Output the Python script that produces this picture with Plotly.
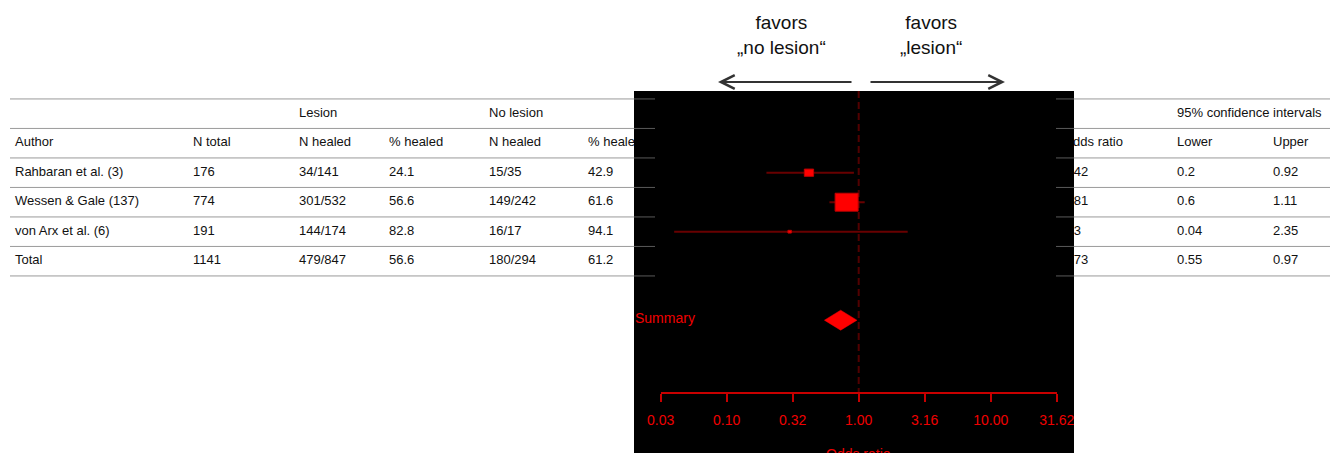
import math
import plotly.graph_objects as go

# ---- study data -----------------------------------------------------------
authors = ["Rahbaran et al. (3)", "Wessen & Gale (137)", "von Arx et al. (6)"]
total_label = "Total"
n_total = [176, 774, 191]
n_total_sum = 1141
lesion_healed = ["34/141", "301/532", "144/174"]
lesion_healed_sum = "479/847"
lesion_pct = [24.1, 56.6, 82.8]
lesion_pct_sum = 56.6
nolesion_healed = ["15/35", "149/242", "16/17"]
nolesion_healed_sum = "180/294"
nolesion_pct = [42.9, 61.6, 94.1]
nolesion_pct_sum = 61.2
odds_ratio = [0.42, 0.81, 0.3]
odds_ratio_sum = 0.73
ci_lower = [0.2, 0.6, 0.04]
ci_lower_sum = 0.55
ci_upper = [0.92, 1.11, 2.35]
ci_upper_sum = 0.97

group_headers = ["", "", "Lesion", "", "No lesion", "", "", "95% confidence intervals", ""]
col_headers = ["Author", "N total", "N healed", "% healed", "N healed", "% healed",
               "Odds ratio", "Lower", "Upper"]
tick_exponents = [-1.5, -1.0, -0.5, 0.0, 0.5, 1.0, 1.5]
tick_labels = ["0.03", "0.10", "0.32", "1.00", "3.16", "10.00", "31.62"]

# ---- page geometry (pixels) ----------------------------------------------
W, H = 1330, 453
ROW0, ROW_H = 113.7, 29.5          # centre of first table row, row pitch
PANEL_L, PANEL_R, PANEL_T = 634, 1074, 91
AX_L, AX_R, AX_Y = 660.7, 1056.7, 393
col_x = [15, 193, 299, 389, 489, 588, 1063, 1177, 1273]
FONT = "Liberation Sans, Arial, Helvetica, sans-serif"
RED = "#f00000"
BOX_MAX_W, BOX_ASPECT = 23, 1.28   # largest box width (px), width/height


def fx(p):
    return p / W


def fy(p):
    return 1 - p / H


def row_of(p):
    return (p - ROW0) / ROW_H


def fmt(v):
    return f"{v:g}"


# pixels per decade on the odds-ratio axis
PX_PER_DEC = (AX_R - AX_L) / (tick_exponents[-1] - tick_exponents[0])

# table body, one list per column
columns = [
    authors + [total_label],
    [str(v) for v in n_total] + [str(n_total_sum)],
    lesion_healed + [lesion_healed_sum],
    [fmt(v) for v in lesion_pct] + [fmt(lesion_pct_sum)],
    nolesion_healed + [nolesion_healed_sum],
    [fmt(v) for v in nolesion_pct] + [fmt(nolesion_pct_sum)],
    [fmt(v) for v in odds_ratio] + [fmt(odds_ratio_sum)],
    [fmt(v) for v in ci_lower] + [fmt(ci_lower_sum)],
    [fmt(v) for v in ci_upper] + [fmt(ci_upper_sum)],
]

fig = go.Figure()

# text columns: left block in x/y, right block in x3/y (both clip at the panel)
for ci, x in enumerate(col_x):
    texts = [group_headers[ci], col_headers[ci]] + columns[ci]
    keep = [(r, t) for r, t in enumerate(texts) if t]
    fig.add_trace(go.Scatter(
        x=[x] * len(keep), y=[r for r, _ in keep], text=[t for _, t in keep],
        mode="text", textposition="middle right",
        textfont=dict(family=FONT, size=13, color="#111111"),
        xaxis="x" if x < PANEL_L else "x3", yaxis="y",
        cliponaxis=True, hoverinfo="skip", showlegend=False,
    ))

# ---- forest plot ---------------------------------------------------------
study_rows = [2 + i for i in range(len(authors))]
summary_row = 2 + len(authors) + 2

ci_x, ci_y = [], []
for lo, hi, r in zip(ci_lower, ci_upper, study_rows):
    ci_x += [lo, hi, None]
    ci_y += [r, r, None]
fig.add_trace(go.Scatter(
    x=ci_x, y=ci_y, mode="lines", line=dict(color="#680000", width=2),
    xaxis="x2", yaxis="y", hoverinfo="skip", showlegend=False,
))

# study boxes, side proportional to precision (1/SE)
inv_se = [2 * 1.96 / (math.log(hi) - math.log(lo))
          for lo, hi in zip(ci_lower, ci_upper)]
max_inv = max(inv_se)
for est, r, p in zip(odds_ratio, study_rows, inv_se):
    w = BOX_MAX_W * p / max_inv
    hx = 10 ** (w / 2 / PX_PER_DEC)          # half-width as a factor on the log axis
    hy = w / BOX_ASPECT / 2 / ROW_H          # half-height in row units
    fig.add_trace(go.Scatter(
        x=[est / hx, est * hx, est * hx, est / hx, est / hx],
        y=[r - hy, r - hy, r + hy, r + hy, r - hy],
        mode="lines", fill="toself", fillcolor="#ff0000",
        line=dict(color="#c00000", width=1),
        xaxis="x2", yaxis="y", hoverinfo="skip", showlegend=False,
    ))

half_h = 10 / ROW_H
fig.add_trace(go.Scatter(
    x=[ci_lower_sum, odds_ratio_sum, ci_upper_sum, odds_ratio_sum, ci_lower_sum],
    y=[summary_row, summary_row - half_h, summary_row, summary_row + half_h, summary_row],
    mode="lines", fill="toself", fillcolor="#ff0000",
    line=dict(color="#ff0000", width=0.5),
    xaxis="x2", yaxis="y", hoverinfo="skip", showlegend=False,
))

shapes = []
# black panel behind the forest plot
shapes.append(dict(type="rect", xref="paper", yref="paper", layer="below",
                   x0=fx(PANEL_L), x1=fx(PANEL_R), y0=0, y1=fy(PANEL_T),
                   fillcolor="#000000", line=dict(width=0)))
# reference line at OR = 1
shapes.append(dict(type="line", xref="x2", yref="y", layer="below",
                   x0=1, x1=1, y0=row_of(PANEL_T), y1=row_of(AX_Y),
                   line=dict(color="#520000", width=2, dash="7px,4px")))

# table rules
for k in range(len(columns[0]) + 3):
    for a, b in ((10, 655), (1056, W)):
        shapes.append(dict(type="line", xref="paper", yref="y", layer="above",
                           x0=fx(a), x1=fx(b), y0=k - 0.5, y1=k - 0.5,
                           line=dict(color="rgba(120,120,120,0.75)", width=1)))

annotations = [
    dict(text="Summary", xref="paper", yref="y", x=fx(633), y=summary_row,
         xanchor="left", yanchor="middle", yshift=2, showarrow=False,
         font=dict(family=FONT, size=14, color=RED)),
    dict(text="Odds ratio", xref="x2 domain", yref="paper", x=0.5, y=fy(444),
         xanchor="center", yanchor="top", showarrow=False,
         font=dict(family=FONT, size=14, color=RED)),
    dict(text="favors<br>„no lesion“", xref="paper", yref="paper",
         x=fx(781), y=fy(35.5), xanchor="center", yanchor="middle",
         showarrow=False, font=dict(family=FONT, size=19, color="#111111")),
    dict(text="favors<br>„lesion“", xref="paper", yref="paper",
         x=fx(931), y=fy(35.5), xanchor="center", yanchor="middle",
         showarrow=False, font=dict(family=FONT, size=19, color="#111111")),
    dict(text="", xref="paper", yref="paper", x=fx(718), y=fy(82),
         ax=853 - 718, ay=0, showarrow=True, arrowhead=5, arrowsize=1.5,
         arrowwidth=1.8, arrowcolor="#333333", standoff=0),
    dict(text="", xref="paper", yref="paper", x=fx(1005), y=fy(82),
         ax=869 - 1005, ay=0, showarrow=True, arrowhead=5, arrowsize=1.5,
         arrowwidth=1.8, arrowcolor="#333333", standoff=0),
]

hidden = dict(visible=False, showgrid=False, zeroline=False, fixedrange=True)
fig.update_layout(
    width=W, height=H, autosize=False,
    margin=dict(l=0, r=0, t=0, b=0, pad=0, autoexpand=False),
    paper_bgcolor="#ffffff", plot_bgcolor="rgba(0,0,0,0)",
    showlegend=False, shapes=shapes, annotations=annotations,
    xaxis=dict(domain=[0, fx(PANEL_L)], range=[0, PANEL_L], anchor="y", **hidden),
    xaxis3=dict(domain=[fx(PANEL_R), 1], range=[PANEL_R, W], anchor="y", **hidden),
    yaxis=dict(domain=[0, 1], range=[row_of(H), row_of(0)], anchor="x", **hidden),
    xaxis2=dict(
        type="log", domain=[fx(AX_L), fx(AX_R)],
        range=[tick_exponents[0], tick_exponents[-1]],
        anchor="free", position=fy(AX_Y), automargin=False,
        tickmode="array", tickvals=[10 ** e for e in tick_exponents],
        ticktext=tick_labels,
        showline=True, linecolor="#c80000", linewidth=2,
        ticks="outside", ticklen=8, tickwidth=2, tickcolor="#c80000",
        ticklabelstandoff=6,
        tickfont=dict(family=FONT, size=14, color=RED),
        showgrid=False, zeroline=False, fixedrange=True,
    ),
)

fig.write_html("out.html")
